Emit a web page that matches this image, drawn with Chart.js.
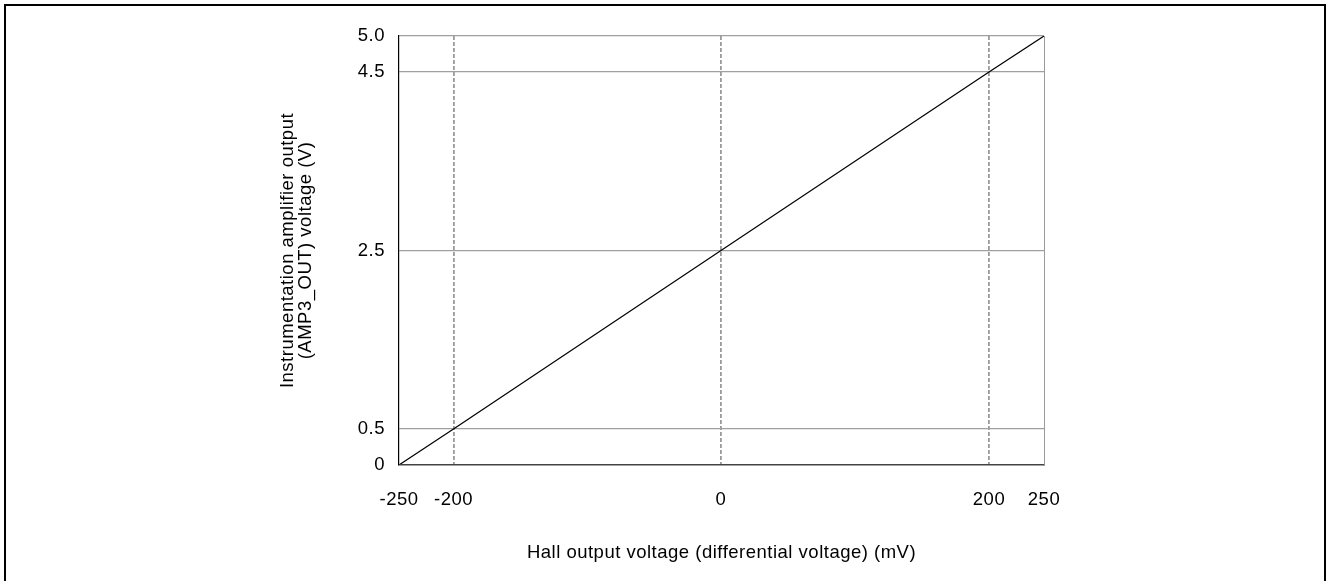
<!DOCTYPE html>
<html><head><meta charset="utf-8">
<script src="https://cdn.jsdelivr.net/npm/chart.js@4"></script>
<style>
html,body{margin:0;padding:0;background:#fff;overflow:hidden;width:1328px;height:581px}
#frame{position:absolute;left:4px;top:4px;width:1318px;height:700px;border:2px solid #000;pointer-events:none}
canvas{position:absolute;left:0;top:0}
</style></head>
<body>
<canvas id="c" width="1328" height="581"></canvas>
<div id="frame"></div>
<script>
const hallVoltage = [-250, -200, 0, 200, 250];
const ampOutput = [0, 0.5, 2.5, 4.5, 5.0];
const xTickValues = [-250, -200, 0, 200, 250];
const xTickLabels = ['-250', '-200', '0', '200', '250'];
const yTickValues = [0, 0.5, 2.5, 4.5, 5.0];
const yTickLabels = ['0', '0.5', '2.5', '4.5', '5.0'];
const xTitle = 'Hall output voltage (differential voltage) (mV)';
const yTitle = ['Instrumentation amplifier output', '(AMP3_OUT) voltage (V)'];

// The reference axes are schematic: the outer 50 mV / 0.5 V segments are drawn
// shorter than the middle span. A piecewise-linear scale reproduces that mapping.
class PiecewiseScale extends Chart.LinearScale {
  _frac(value) {
    const k = this.options.knots;
    if (value <= k[0][0]) return k[0][1];
    for (let i = 1; i < k.length; i++) {
      if (value <= k[i][0]) {
        const t = (value - k[i - 1][0]) / (k[i][0] - k[i - 1][0]);
        return k[i - 1][1] + t * (k[i][1] - k[i - 1][1]);
      }
    }
    return k[k.length - 1][1];
  }
  getPixelForValue(value) {
    return this.getPixelForDecimal(this._frac(value));
  }
  getValueForPixel(pixel) {
    const d = this.getDecimalForPixel(pixel);
    const k = this.options.knots;
    for (let i = 1; i < k.length; i++) {
      if (d <= k[i][1]) {
        const t = (d - k[i - 1][1]) / (k[i][1] - k[i - 1][1]);
        return k[i - 1][0] + t * (k[i][0] - k[i - 1][0]);
      }
    }
    return k[k.length - 1][0];
  }
}
PiecewiseScale.id = 'piecewise';
PiecewiseScale.defaults = Chart.LinearScale.defaults;
Chart.register(PiecewiseScale);

const FAMILY = "'Liberation Sans', Arial, sans-serif";
const FS = 18.5;
const spacing = {
  id: 'spacing',
  beforeLayout(chart) { chart.ctx.letterSpacing = '0.5px'; },
  beforeDraw(chart) { chart.ctx.letterSpacing = '0.5px'; }
};

const points = hallVoltage.map((x, i) => ({ x: x, y: ampOutput[i] }));

new Chart(document.getElementById('c'), {
  type: 'scatter',
  data: {
    datasets: [{
      data: points,
      showLine: true,
      borderColor: '#000',
      borderWidth: 1.2,
      pointRadius: 0,
      pointHoverRadius: 0,
      fill: false
    }]
  },
  plugins: [spacing],
  options: {
    responsive: false,
    animation: false,
    devicePixelRatio: 1,
    layout: { padding: { left: 270, top: 36, right: 284, bottom: 0 } },
    plugins: { legend: { display: false }, tooltip: { enabled: false } },
    scales: {
      x: {
        type: 'piecewise',
        knots: [[-250, 0], [-200, 0.0845], [0, 0.4992], [200, 0.9147], [250, 1]],
        min: -250, max: 250,
        afterBuildTicks(s) { s.ticks = xTickValues.map(v => ({ value: v })); },
        afterFit(s) { s.height = 116; },
        ticks: {
          padding: 24,
          color: '#000',
          font: { family: FAMILY, size: FS, lineHeight: 1.2 },
          maxRotation: 0,
          autoSkip: false,
          callback(v, i) { return xTickLabels[i]; }
        },
        grid: {
          drawTicks: false,
          lineWidth: 1.8,
          color(ctx) {
            const v = ctx.tick ? ctx.tick.value : null;
            return (v === -250 || v === 250) ? 'rgba(0,0,0,0)' : '#9a9a9a';
          }
        },
        border: { display: true, color: '#444', width: 1.5, dash: [4, 2], z: 1 },
        title: {
          display: true,
          text: xTitle,
          color: '#000',
          font: { family: FAMILY, size: FS, lineHeight: 1.2 },
          padding: { top: 0, bottom: 17 }
        }
      },
      y: {
        type: 'piecewise',
        knots: [[0, 0], [0.5, 0.0839], [2.5, 0.5], [4.5, 0.916], [5, 1]],
        position: 'left',
        min: 0, max: 5,
        afterBuildTicks(s) { s.ticks = yTickValues.map(v => ({ value: v })); },
        afterFit(s) { s.width = 129; },
        ticks: {
          padding: 14,
          color: '#000',
          autoSkip: false,
          font: { family: FAMILY, size: FS, lineHeight: 1.2 },
          callback(v, i) { return yTickLabels[i]; }
        },
        grid: {
          drawTicks: false,
          lineWidth: 1.2,
          color(ctx) {
            const v = ctx.tick ? ctx.tick.value : null;
            return (v === 0) ? 'rgba(0,0,0,0)' : '#a0a0a0';
          }
        },
        border: { display: true, color: '#000', width: 1.2, z: 1 },
        title: {
          display: true,
          text: yTitle,
          color: '#000',
          font: { family: FAMILY, size: FS, lineHeight: 0.97 },
          padding: { top: 9, bottom: 0 }
        }
      },
      y2: {
        type: 'linear',
        position: 'right',
        min: 0, max: 5,
        afterFit(s) { s.width = 0; },
        ticks: { display: false },
        grid: { display: false, drawTicks: false },
        border: { display: true, color: '#9a9a9a', width: 1, z: 1 }
      }
    }
  }
});
</script>
</body></html>
